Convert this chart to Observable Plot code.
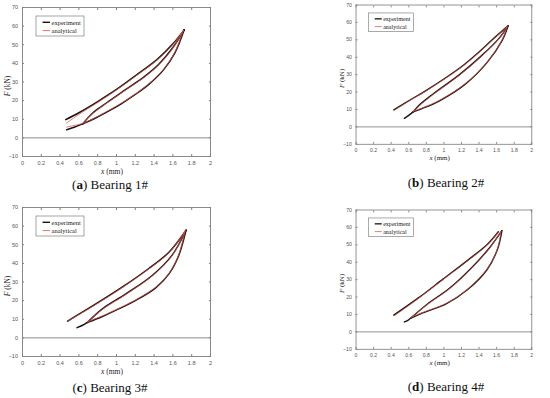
<!DOCTYPE html>
<html><head><meta charset="utf-8">
<script src="https://cdn.jsdelivr.net/npm/d3@7"></script>
<script src="https://cdn.jsdelivr.net/npm/@observablehq/plot@0.6"></script>
<style>
html,body{margin:0;padding:0;background:#fff}
body{width:550px;height:398px;position:relative;overflow:hidden}
.panel{position:absolute}
.cap{position:absolute;width:160px;margin-left:-80px;text-align:center;font-family:"Liberation Serif",serif;font-size:13px;color:#111;line-height:14px}
</style></head><body>
<script>
// ---- axes ----
const xTicks = [0, 0.2, 0.4, 0.6, 0.8, 1, 1.2, 1.4, 1.6, 1.8, 2];
const xTickLabels = ["0", "0.2", "0.4", "0.6", "0.8", "1", "1.2", "1.4", "1.6", "1.8", "2"];
const yTicks = [-10, 0, 10, 20, 30, 40, 50, 60, 70];
const yTickLabels = ["\u221210", "0", "10", "20", "30", "40", "50", "60", "70"];
const seriesNames = ["experiment", "analytical"];
const captionLetters = ["a", "b", "c", "d"];
const captionTexts = ["Bearing 1#", "Bearing 2#", "Bearing 3#", "Bearing 4#"];

// ---- Bearing 1# : [x (mm), F (kN)] ----
const aExpTail  = [[0.47,4.4],[0.55,5.7],[0.64,7.5]];
const aExpLoad  = [[0.64,7.5],[0.75,10.0],[0.90,14.0],[1.05,18.3],[1.20,23.3],[1.35,29.0],[1.50,36.5],[1.62,45.5],[1.72,58.0]];
const aExpInner = [[1.72,58.0],[1.60,48.5],[1.45,39.5],[1.30,33.0],[1.10,26.0],[0.90,19.0],[0.75,13.5],[0.64,7.5]];
const aExpUpper = [[1.72,58.0],[1.60,50.5],[1.43,42.0],[1.20,33.3],[1.00,26.0],[0.80,19.5],[0.60,13.5],[0.46,9.8]];
const aAnaLoad  = [[0.47,5.8],[0.64,7.8],[0.75,10.3],[0.90,14.3],[1.05,18.6],[1.20,23.5],[1.35,29.3],[1.50,36.8],[1.62,45.9],[1.71,57.6]];
const aAnaInner = [[1.71,57.6],[1.60,48.2],[1.45,39.2],[1.30,32.7],[1.10,25.8],[0.90,18.8],[0.75,13.2],[0.64,7.8]];
const aAnaUpper = [[1.71,57.6],[1.60,50.1],[1.43,41.7],[1.20,33.0],[1.00,25.7],[0.80,19.0],[0.60,12.6],[0.47,8.0]];

// ---- Bearing 2# ----
const bExpTail  = [[0.55,4.9],[0.60,6.6],[0.65,8.6]];
const bExpLoad  = [[0.65,8.6],[0.75,10.5],[0.95,15.0],[1.24,24.4],[1.49,36.9],[1.66,49.4],[1.73,58.0]];
const bExpInner = [[1.73,58.0],[1.63,51.0],[1.42,40.5],[1.17,29.7],[0.88,19.0],[0.72,12.5],[0.65,8.6]];
const bExpUpper = [[1.73,58.0],[1.55,50.0],[1.40,43.0],[1.20,34.5],[1.00,27.5],[0.80,21.0],[0.60,15.0],[0.43,9.8]];
const bAnaLoad  = [[0.65,8.9],[0.75,10.8],[0.95,15.3],[1.24,24.7],[1.49,37.2],[1.66,49.8],[1.72,57.6]];
const bAnaInner = [[1.72,57.6],[1.63,50.7],[1.42,40.2],[1.17,29.4],[0.88,18.7],[0.72,12.2],[0.65,8.9]];
const bAnaUpper = [[1.72,57.6],[1.55,49.7],[1.40,42.7],[1.20,34.2],[1.00,27.2],[0.80,20.7],[0.60,14.7],[0.44,9.7]];

// ---- Bearing 3# ----
const cExpTail  = [[0.58,5.5],[0.64,6.8],[0.69,8.3]];
const cExpLoad  = [[0.69,8.3],[0.85,11.5],[1.00,15.0],[1.20,20.0],[1.42,27.0],[1.56,34.5],[1.66,44.0],[1.74,57.8]];
const cExpInner = [[1.74,57.8],[1.59,44.3],[1.38,33.5],[1.10,23.6],[0.85,15.6],[0.69,8.3]];
const cExpUpper = [[1.74,57.8],[1.56,46.1],[1.34,37.1],[1.06,27.2],[0.78,18.2],[0.48,9.0]];
const cAnaLoad  = [[0.69,8.6],[0.85,11.8],[1.00,15.3],[1.20,20.3],[1.42,27.3],[1.56,34.8],[1.66,44.4],[1.73,57.4]];
const cAnaInner = [[1.73,57.4],[1.59,44.0],[1.38,33.2],[1.10,23.3],[0.85,15.3],[0.69,8.6]];
const cAnaUpper = [[1.73,57.4],[1.56,45.8],[1.34,36.8],[1.06,26.9],[0.78,17.9],[0.49,9.2]];

// ---- Bearing 4# ----
const dExpTail  = [[0.55,5.7],[0.59,6.6],[0.62,7.8]];
const dExpLoad  = [[0.62,7.8],[0.74,10.5],[1.03,16.2],[1.27,24.3],[1.49,35.7],[1.61,47.4],[1.66,58.1]];
const dExpInner = [[1.66,58.1],[1.52,48.3],[1.31,36.6],[1.06,24.9],[0.81,15.9],[0.62,7.8]];
const dExpUpper = [[1.62,57.5],[1.49,50.0],[1.27,41.1],[0.99,30.3],[0.71,19.5],[0.43,9.6]];
const dAnaLoad  = [[0.62,8.1],[0.74,10.8],[1.03,16.5],[1.27,24.6],[1.49,36.0],[1.61,47.8],[1.65,57.7]];
const dAnaInner = [[1.65,57.7],[1.52,48.0],[1.31,36.3],[1.06,24.6],[0.81,15.6],[0.62,8.1]];
const dAnaUpper = [[1.62,57.2],[1.49,49.7],[1.27,40.8],[0.99,30.0],[0.71,19.2],[0.44,9.4]];

const panels = [
  {exp:[aExpTail,aExpLoad,aExpInner,aExpUpper], ana:[aAnaLoad,aAnaInner,aAnaUpper], left:0,   top:0,   capX:110, capY:178},
  {exp:[bExpTail,bExpLoad,bExpInner,bExpUpper], ana:[bAnaLoad,bAnaInner,bAnaUpper], left:335, top:-2,  capX:446, capY:176},
  {exp:[cExpTail,cExpLoad,cExpInner,cExpUpper], ana:[cAnaLoad,cAnaInner,cAnaUpper], left:0,   top:200, capX:110, capY:381},
  {exp:[dExpTail,dExpLoad,dExpInner,dExpUpper], ana:[dAnaLoad,dAnaInner,dAnaUpper], left:335, top:203, capX:446, capY:380}
];

const EXP_COLOR = "#1a1410", ANA_COLOR = "#e0524a", GRID = "#7f7f7f";
const mL = 22, mR = 20, mT = 7, mB = 26, W = 230, H = 182;

panels.forEach((p, k) => {
  const marks = [
    Plot.frame({stroke: GRID, strokeWidth: 0.9}),
    Plot.ruleY([0], {stroke: GRID, strokeWidth: 0.9}),
    Plot.axisX({ticks: xTicks, tickFormat: d => xTickLabels[xTicks.indexOf(d)], tickSize: -2, tickPadding: 6.5, stroke: GRID, fill: "#555", label: null}),
    Plot.axisX({anchor: "top", ticks: xTicks, tickFormat: () => "", tickSize: -2, stroke: GRID, label: null}),
    Plot.axisY({ticks: yTicks, tickFormat: d => yTickLabels[yTicks.indexOf(d)], tickSize: -2, tickPadding: 6.5, stroke: GRID, fill: "#555", label: null}),
    Plot.axisY({anchor: "right", ticks: yTicks, tickFormat: () => "", tickSize: -2, stroke: GRID, label: null})
  ];
  p.exp.forEach(b => marks.push(Plot.line(b, {x: d => d[0], y: d => d[1], stroke: EXP_COLOR, strokeWidth: 1.5, curve: "catmull-rom"})));
  p.ana.forEach(b => marks.push(Plot.line(b, {x: d => d[0], y: d => d[1], stroke: ANA_COLOR, strokeWidth: 0.9, strokeOpacity: 0.85, curve: "catmull-rom"})));

  const svg = Plot.plot({
    width: W, height: H, marginLeft: mL, marginRight: mR, marginTop: mT, marginBottom: mB,
    x: {domain: [0, 2]}, y: {domain: [-10, 70]},
    style: {fontFamily: "'Liberation Sans', Arial, sans-serif", fontSize: "5.5px", color: "#555", background: "transparent", overflow: "visible"},
    marks
  });

  const s = d3.select(svg);
  // y label
  const yl = s.append("text").attr("transform", `translate(10,${mT + 79}) rotate(-90)`)
    .attr("text-anchor", "middle").attr("font-family", "'Liberation Serif', serif").attr("font-size", 7.5).attr("fill", "#222");
  yl.append("tspan").attr("font-style", "italic").text("F");
  yl.append("tspan").text(" (kN)");
  // x label
  const xl = s.append("text").attr("x", mL + 90).attr("y", mT + 149 + 17.5)
    .attr("text-anchor", "middle").attr("font-family", "'Liberation Serif', serif").attr("font-size", 7.5).attr("fill", "#222");
  xl.append("tspan").attr("font-style", "italic").text("x");
  xl.append("tspan").text(" (mm)");
  // legend
  const lg = s.append("g").attr("transform", `translate(${mL + 14},${mT + 9})`);
  lg.append("rect").attr("width", 48).attr("height", 20).attr("fill", "#fff").attr("stroke", GRID).attr("stroke-width", 0.7);
  [[EXP_COLOR, 1.4], [ANA_COLOR, 0.8]].forEach(([c, w], i) => {
    const yy = 6.3 + i * 8.3;
    lg.append("line").attr("x1", 6.5).attr("x2", 14).attr("y1", yy).attr("y2", yy).attr("stroke", c).attr("stroke-width", w);
    lg.append("text").attr("x", 15.5).attr("y", yy + 2.2).attr("text-anchor", "start").attr("font-family", "'Liberation Serif', serif")
      .attr("font-size", 6.5).attr("fill", "#222").text(seriesNames[i]);
  });

  const div = document.createElement("div");
  div.className = "panel";
  div.style.left = p.left + "px";
  div.style.top = p.top + "px";
  div.appendChild(svg);
  document.body.appendChild(div);

  const cap = document.createElement("div");
  cap.className = "cap";
  cap.style.left = p.capX + "px";
  cap.style.top = p.capY + "px";
  cap.innerHTML = `(<b>${captionLetters[k]}</b>) ${captionTexts[k]}`;
  document.body.appendChild(cap);
});
</script>
</body></html>
